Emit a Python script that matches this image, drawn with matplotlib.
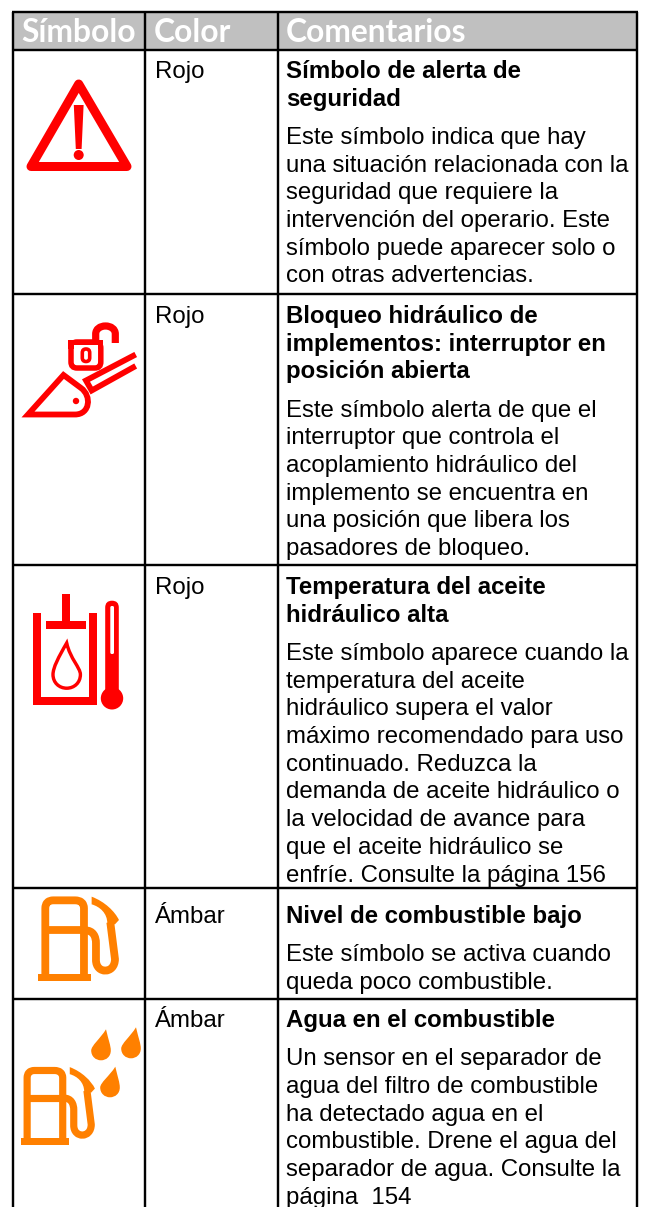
import matplotlib
matplotlib.use("Agg")
import matplotlib.pyplot as plt
from matplotlib.patches import Circle, FancyBboxPatch, PathPatch, Polygon, Rectangle
from matplotlib.path import Path

W, H = 645, 1207

headers = ["Símbolo", "Color", "Comentarios"]
colores = ["Rojo", "Rojo", "Rojo", "Ámbar", "Ámbar"]
titulos = [
    ["Símbolo de alerta de", "seguridad"],
    ["Bloqueo hidráulico de", "implementos: interruptor en", "posición abierta"],
    ["Temperatura del aceite", "hidráulico alta"],
    ["Nivel de combustible bajo"],
    ["Agua en el combustible"],
]
textos = [
    ["Este símbolo indica que hay", "una situación relacionada con la",
     "seguridad que requiere la", "intervención del operario. Este",
     "símbolo puede aparecer solo o", "con otras advertencias."],
    ["Este símbolo alerta de que el", "interruptor que controla el",
     "acoplamiento hidráulico del", "implemento se encuentra en",
     "una posición que libera los", "pasadores de bloqueo."],
    ["Este símbolo aparece cuando la", "temperatura del aceite",
     "hidráulico supera el valor", "máximo recomendado para uso",
     "continuado. Reduzca la", "demanda de aceite hidráulico o",
     "la velocidad de avance para", "que el aceite hidráulico se",
     "enfríe. Consulte la página 156"],
    ["Este símbolo se activa cuando", "queda poco combustible."],
    ["Un sensor en el separador de", "agua del filtro de combustible",
     "ha detectado agua en el", "combustible. Drene el agua del",
     "separador de agua. Consulte la", "página  154"],
]

# layout of the table, in pixels
col_x = [13.3, 145.3, 277.7, 636.7]
row_y = [50, 294, 565, 888, 999]
top_y = 11.5
line_h = 27.7
para_gap = 10.5
RED = "#FF0000"
AMBER = "#FF8000"
BODY_SIZE = 17.25


def px(w):
    return w * 72 / 100


fig = plt.figure(figsize=(W / 100, H / 100), dpi=100, facecolor="white")
ax = fig.add_axes([0, 0, 1, 1])
ax.set_xlim(0, W)
ax.set_ylim(H, 0)
ax.axis("off")


def stroke(verts, codes=None, color=RED, lw=4, closed=False, cap="round", join="round"):
    if codes is None:
        codes = [Path.MOVETO] + [Path.LINETO] * (len(verts) - 1)
    if closed:
        verts = list(verts) + [verts[0]]
        codes = list(codes) + [Path.CLOSEPOLY]
    p = PathPatch(Path(verts, codes), fill=False, edgecolor=color, linewidth=px(lw),
                  capstyle=cap, joinstyle=join)
    ax.add_patch(p)


def drop_path(tx, ty, cx, cy, r):
    verts = [(tx, ty),
             (tx + 0.25 * r, ty + 0.5 * (cy - ty)), (cx + r, cy - 0.5 * r), (cx + r, cy),
             (cx + r, cy + 0.6 * r), (cx + 0.55 * r, cy + r), (cx, cy + r),
             (cx - 0.55 * r, cy + r), (cx - r, cy + 0.6 * r), (cx - r, cy),
             (cx - r, cy - 0.5 * r), (tx - 0.6 * r, ty + 0.45 * (cy - ty)), (tx, ty),
             (tx, ty)]
    codes = [Path.MOVETO] + [Path.CURVE4] * 12 + [Path.CLOSEPOLY]
    return Path(verts, codes)


def icono_alerta():
    stroke([(78.7, 84), (127, 166.5), (31, 166.5)], lw=9, closed=True)
    ax.add_patch(Polygon([(73.8, 105), (83.6, 105), (81.6, 149), (75.8, 149)], color=RED, lw=0))
    ax.add_patch(Circle((78.7, 155), 5, color=RED, lw=0))


def icono_bloqueo():
    # padlock
    ax.add_patch(FancyBboxPatch((71, 342), 29.8, 26, boxstyle="round,pad=0,rounding_size=6",
                                fill=False, edgecolor=RED, linewidth=px(5.5)))
    ax.add_patch(Rectangle((68.3, 340), 35, 8.5, color=RED, lw=0))
    ax.add_patch(Rectangle((73.7, 345), 24.5, 4, color="white", lw=0))
    stroke([(95.7, 342), (95.7, 334), (95.7, 329), (100, 326), (105.5, 326),
            (111, 326), (115.3, 329), (115.3, 334), (115.3, 343)],
           [Path.MOVETO, Path.LINETO, Path.CURVE4, Path.CURVE4, Path.CURVE4,
            Path.CURVE4, Path.CURVE4, Path.CURVE4, Path.LINETO], lw=7.2, cap="butt")
    ax.add_patch(FancyBboxPatch((82.3, 349), 7.4, 12.5, boxstyle="round,pad=0,rounding_size=3.7",
                                fill=False, edgecolor=RED, linewidth=px(3.6)))
    # bucket and arm
    stroke([(28, 414.5), (63.5, 375), (81, 388), (92, 396), (90, 414.5), (75, 414.5)],
           [Path.MOVETO, Path.LINETO, Path.LINETO, Path.CURVE4, Path.CURVE4, Path.CURVE4],
           lw=5.8, join="miter", closed=True)
    ax.add_patch(Circle((76, 401), 3.2, color=RED, lw=0))
    stroke([(135.7, 354.5), (86, 380.5), (91.7, 390.5), (135.7, 366)], lw=5.8, cap="butt", join="miter")


def icono_temperatura():
    ax.add_patch(Rectangle((62, 594), 8, 30, color=RED, lw=0))
    ax.add_patch(Rectangle((46, 620.7), 40, 8.6, color=RED, lw=0))
    ax.add_patch(Polygon([(33.3, 612.7), (41.3, 612.7), (41.3, 697.3), (89.3, 697.3),
                          (89.3, 612.7), (97.3, 612.7), (97.3, 705.3), (33.3, 705.3)],
                         color=RED, lw=0))
    ax.add_patch(PathPatch(drop_path(66.7, 643, 66.7, 674.5, 13.7), fill=False,
                           edgecolor=RED, linewidth=px(3.4)))
    ax.add_patch(FancyBboxPatch((105.2, 600.7), 13.6, 100, boxstyle="round,pad=0,rounding_size=6.8",
                                color=RED, lw=0))
    ax.add_patch(Circle((112, 698.3), 11.2, color=RED, lw=0))
    ax.add_patch(FancyBboxPatch((110.3, 606), 3.7, 48, boxstyle="round,pad=0,rounding_size=1.5",
                                color="white", lw=0))


def icono_surtidor(x0, y0, s):
    # x0, y0 is the lower left corner of the base, s the size against the plain icon
    def t(zx, zy):
        return (x0 + (zx - 115) / 3 * s, y0 + (zy - 288) / 3 * s)

    lw = 7.8 * s
    stroke([t(136, 275), t(136, 70), t(136, 46), t(160, 46), t(165, 46), t(225, 46),
            t(252, 46), t(252, 70), t(252, 275)],
           [Path.MOVETO, Path.LINETO, Path.CURVE3, Path.CURVE3, Path.LINETO, Path.LINETO,
            Path.CURVE3, Path.CURVE3, Path.LINETO], color=AMBER, lw=lw, cap="butt")
    stroke([t(136, 136), t(252, 136)], color=AMBER, lw=lw, cap="butt")
    a, b = t(115, 266), t(272, 288)
    ax.add_patch(Rectangle(a, b[0] - a[0], b[1] - a[1], color=AMBER, lw=0))
    stroke([t(255, 136), t(280, 136), t(288, 155), t(288, 175), t(288, 225),
            t(288, 268), t(345, 268), t(345, 222), t(331, 112)],
           [Path.MOVETO, Path.CURVE4, Path.CURVE4, Path.CURVE4, Path.LINETO,
            Path.CURVE4, Path.CURVE4, Path.CURVE4, Path.LINETO], color=AMBER, lw=lw, cap="butt")
    verts = [t(275, 35), t(315, 50), t(345, 80), t(357, 105), t(345, 118), t(322, 115),
             t(322, 85), t(300, 65), t(275, 58), t(275, 35)]
    codes = [Path.MOVETO, Path.CURVE4, Path.CURVE4, Path.CURVE4, Path.LINETO, Path.LINETO,
             Path.CURVE4, Path.CURVE4, Path.CURVE4, Path.CLOSEPOLY]
    ax.add_patch(PathPatch(Path(verts, codes), color=AMBER, lw=0))


def icono_gotas():
    for tx, ty, cx, cy in [(106, 1029.3, 101, 1050.5), (136, 1027.3, 131, 1048.5), (115.3, 1066.7, 110, 1087.5)]:
        ax.add_patch(PathPatch(drop_path(tx, ty, cx, cy, 9.8), color=AMBER, lw=0))


# header band and text
ax.add_patch(Rectangle((col_x[0], top_y), col_x[3] - col_x[0], row_y[0] - top_y, color="#C0C0C0", lw=0))
for x, h in zip(col_x[:3], headers):
    ax.text(x + 8.5, 42.5, h, family="Lato", weight="bold", color="white", fontsize=22.9, va="baseline")

# grid lines
for y in [top_y] + row_y:
    ax.plot([col_x[0] - 1.2, col_x[3] + 1.2], [y, y], color="black", lw=px(2.4), solid_capstyle="butt")
for x in col_x:
    ax.plot([x, x], [top_y, H], color="black", lw=px(2.4), solid_capstyle="butt")

# text of each row
base_y = [78, 323, 594, 923, 1027]
for i in range(len(colores)):
    y = base_y[i]
    ax.text(col_x[1] + 9.7, y, colores[i], family="Liberation Sans", fontsize=BODY_SIZE, va="baseline")
    for ln in titulos[i]:
        ax.text(col_x[2] + 8.3, y, ln, family="Liberation Sans", weight="bold", fontsize=BODY_SIZE, va="baseline")
        y += line_h
    y += para_gap
    for ln in textos[i]:
        ax.text(col_x[2] + 8.3, y, ln, family="Liberation Sans", fontsize=BODY_SIZE, va="baseline")
        y += line_h

icono_alerta()
icono_bloqueo()
icono_temperatura()
icono_surtidor(38.3, 981, 1.0)
icono_surtidor(20.7, 1144.7, 0.92)
icono_gotas()

fig.savefig("out.png", dpi=100, facecolor="white")
